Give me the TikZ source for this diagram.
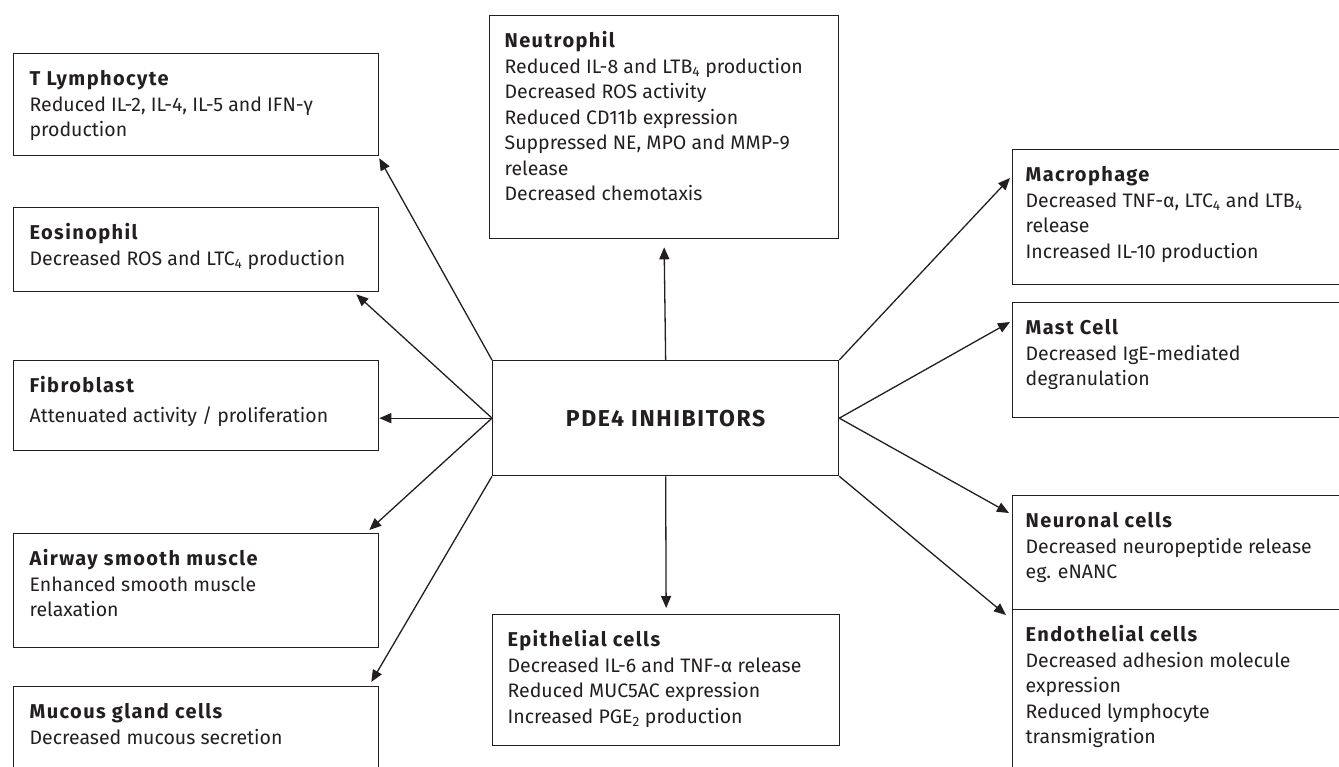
\documentclass[tikz,border=0pt]{standalone}
\usepackage{fontspec}
\setmainfont{Fira Sans}
\newfontfamily\headfont[LetterSpace=7]{Fira Sans}
\usetikzlibrary{arrows.meta,calc}
\definecolor{ink}{HTML}{231F20}
\newcommand\cbody[4]{\parbox[c][#2][t]{#1}{\raggedright\leftskip=#3\relax\rule{0pt}{32pt}#4\par}}
\newcommand\ttl[1]{{\fontsize{20pt}{25.5pt}\headfont\bfseries #1}}
\tikzset{
  cell/.style={draw=ink, line width=1.3pt, anchor=north west, inner sep=0pt, text=ink,
    font=\fontsize{19.5pt}{25.5pt}\selectfont},
  conn/.style={draw=ink, line width=1.3pt, -{Triangle[length=12pt,width=10pt]}},
}
\begin{document}
\begin{tikzpicture}[x=1pt,y=-1pt]
\useasboundingbox (0,0) rectangle (1339,766);
\clip (0,0) rectangle (1339,766);
% left column
\node[cell] (tly) at (13,53) {\cbody{365pt}{102pt}{16pt}{\ttl{T Lymphocyte}\\Reduced IL-2, IL-4, IL-5 and IFN-γ\\production}};
\node[cell] (eos) at (13,207) {\cbody{365pt}{84pt}{16pt}{\ttl{Eosinophil}\\Decreased ROS and LTC\textsubscript{4} production}};
\node[cell] (fib) at (13,360) {\cbody{365pt}{90pt}{16pt}{\ttl{Fibroblast}\\[4pt]Attenuated activity / proliferation}};
\node[cell] (asm) at (13,533) {\cbody{365pt}{114pt}{16pt}{\ttl{Airway smooth muscle}\\Enhanced smooth muscle\\relaxation}};
\node[cell] (muc) at (13,686) {\cbody{365pt}{130pt}{16pt}{\ttl{Mucous gland cells}\\Decreased mucous secretion}};
% centre column
\node[cell] (neu) at (489,15) {\cbody{349pt}{223pt}{15pt}{\ttl{Neutrophil}\\Reduced IL-8 and LTB\textsubscript{4} production\\Decreased ROS activity\\Reduced CD11b expression\\Suppressed NE, MPO and MMP-9\\release\\Decreased chemotaxis}};
\node[cell, minimum width=346pt, minimum height=115pt, font=\fontsize{23pt}{26pt}\headfont\bfseries] (pde) at (492,360) {PDE4 INHIBITORS};
\node[cell] (epi) at (492,614) {\cbody{347pt}{131pt}{15pt}{\ttl{Epithelial cells}\\Decreased IL-6 and TNF-α release\\Reduced MUC5AC expression\\Increased PGE\textsubscript{2} production}};
% right column
\node[cell] (mac) at (1012,149) {\cbody{400pt}{135pt}{13pt}{\ttl{Macrophage}\\Decreased TNF-α, LTC\textsubscript{4} and LTB\textsubscript{4}\\release\\Increased IL-10 production}};
\node[cell] (mast) at (1012,302) {\cbody{400pt}{115pt}{13pt}{\ttl{Mast Cell}\\Decreased IgE-mediated\\degranulation}};
\node[cell] (neur) at (1012,495) {\cbody{400pt}{114pt}{13pt}{\ttl{Neuronal cells}\\Decreased neuropeptide release\\eg. eNANC}};
\node[cell] (endo) at (1012,609) {\cbody{400pt}{200pt}{13pt}{\ttl{Endothelial cells}\\Decreased adhesion molecule\\expression\\Reduced lymphocyte\\transmigration}};
% connectors
\draw[conn] (pde.north west) -- ($(tly.south east)+(0,2)$);
\draw[conn] (pde.west) -- ($(eos.south east)+(-23,2)$);
\draw[conn] (pde.west) -- (pde.west -| fib.east);
\draw[conn] (pde.west) -- ($(asm.north east)+(-10,-3)$);
\draw[conn] (pde.south west) -- ($(muc.north east)+(-8,-4)$);
\draw[conn] (pde.north) -- ($(neu.south)+(0,8)$);
\draw[conn] (pde.south) -- ($(epi.north)+(0,-6)$);
\draw[conn] (pde.north east) -- ($(mac.north west)+(-2,29)$);
\draw[conn] (pde.east) -- ($(mast.north west)+(-2,20)$);
\draw[conn] (pde.east) -- ($(neur.north west)+(-3,18)$);
\draw[conn] (pde.south east) -- ($(endo.north west)+(-6,6)$);
\end{tikzpicture}
\end{document}
